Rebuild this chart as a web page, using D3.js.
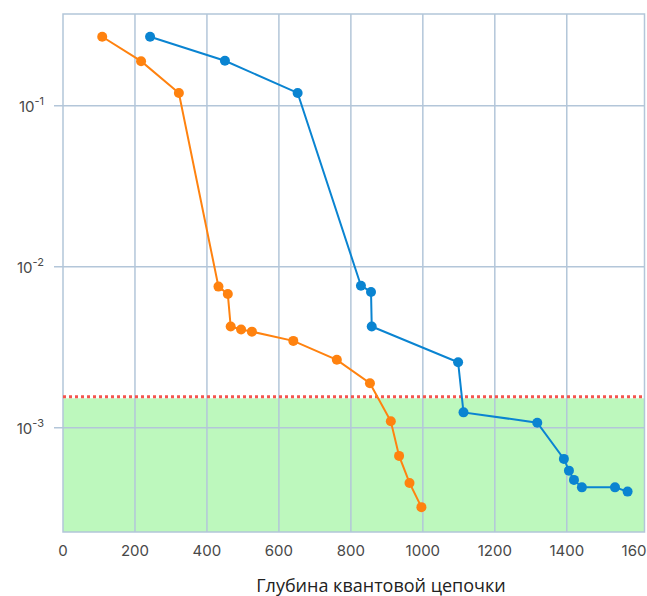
<!DOCTYPE html>
<html lang="ru">
<head>
    <meta charset="UTF-8">
    <title>Глубина квантовой цепочки</title>
    <script src="https://d3js.org/d3.v7.min.js"></script>
    <style>
        body { margin: 0; background: #fff; }
        .tick-label { font-family: Inter, "Open Sans", sans-serif; font-size: 15px; fill: #484848; }
        .axis-title { font-family: "Open Sans", "Noto Sans", sans-serif; font-size: 18px; fill: #222; }
    </style>
</head>
<body>
    <div id="chart"></div>
    <script>
        // data
        const blueDepth = [242, 450, 652, 828, 856, 858, 1098, 1113, 1318, 1392, 1406, 1420, 1442, 1534, 1569];
        const blueError = [0.268, 0.190, 0.120, 7.62e-3, 6.97e-3, 4.25e-3, 2.55e-3, 1.245e-3, 1.074e-3, 6.40e-4, 5.41e-4, 4.74e-4, 4.26e-4, 4.26e-4, 4.01e-4];
        const orangeDepth = [109, 217, 322, 432, 458, 466, 495, 525, 640, 761, 853, 911, 934, 963, 996];
        const orangeError = [0.268, 0.189, 0.120, 7.52e-3, 6.76e-3, 4.25e-3, 4.07e-3, 3.95e-3, 3.46e-3, 2.64e-3, 1.89e-3, 1.096e-3, 6.68e-4, 4.54e-4, 3.21e-4];
        const threshold = 1.555e-3;
        const xTicks = [0, 200, 400, 600, 800, 1000, 1200, 1400, 1600];
        const xGrid = [200, 400, 600, 800, 1000, 1200, 1400];
        const yTicks = [1e-1, 1e-2, 1e-3];
        const yTickExp = ["-1", "-2", "-3"];
        const xTitle = "Глубина квантовой цепочки";

        const W = 647, H = 596;
        const margin = { top: 14, right: 2.5, bottom: 64, left: 63 };
        const width = W - margin.left - margin.right;
        const height = H - margin.top - margin.bottom;
        const gridColor = "#b3c6d9";

        const x = d3.scaleLinear().domain([0, 1616]).range([0, width]);
        const y = d3.scaleLog().domain([2.25e-4, 0.371]).range([height, 0]);

        const svg = d3.select("#chart").append("svg")
            .attr("width", W)
            .attr("height", H)
            .append("g")
            .attr("transform", "translate(" + margin.left + "," + margin.top + ")");

        // green "good" zone under threshold
        svg.append("rect")
            .attr("x", 0)
            .attr("y", y(threshold) + 1.5)
            .attr("width", width)
            .attr("height", height - y(threshold) - 1.5)
            .attr("fill", "#bdf8bd");

        // grid
        svg.selectAll(".vgrid")
            .data(xGrid)
            .enter().append("line")
            .attr("class", "vgrid")
            .attr("x1", d => x(d)).attr("x2", d => x(d))
            .attr("y1", 0).attr("y2", height)
            .attr("stroke", gridColor).attr("stroke-width", 1.5);

        svg.selectAll(".hgrid")
            .data(yTicks)
            .enter().append("line")
            .attr("class", "hgrid")
            .attr("x1", -9).attr("x2", width)
            .attr("y1", d => y(d)).attr("y2", d => y(d))
            .attr("stroke", gridColor).attr("stroke-width", 1.5);

        // frame
        svg.append("rect")
            .attr("width", width).attr("height", height)
            .attr("fill", "none")
            .attr("stroke", gridColor).attr("stroke-width", 1.5);

        // threshold line
        svg.append("line")
            .attr("x1", 0).attr("x2", width)
            .attr("y1", y(threshold)).attr("y2", y(threshold))
            .attr("stroke", "#f5554f")
            .attr("stroke-width", 3)
            .attr("stroke-dasharray", "3,3");

        // x tick labels
        svg.selectAll(".xlab")
            .data(xTicks)
            .enter().append("text")
            .attr("class", "tick-label")
            .attr("x", d => x(d))
            .attr("y", height + 24)
            .attr("text-anchor", "middle")
            .text(d => d);

        // y tick labels with superscripts
        const ylab = svg.selectAll(".ylab")
            .data(yTicks)
            .enter().append("text")
            .attr("class", "tick-label")
            .attr("x", -19)
            .attr("y", d => y(d) + 6)
            .attr("text-anchor", "end");
        ylab.append("tspan").text("10");
        ylab.append("tspan")
            .attr("dy", -7)
            .attr("font-size", 11)
            .text((d, i) => yTickExp[i]);

        // x axis title
        svg.append("text")
            .attr("class", "axis-title")
            .attr("x", 381 - margin.left)
            .attr("y", H - margin.top - 4)
            .attr("text-anchor", "middle")
            .text(xTitle);

        function drawSeries(xs, ys, color) {
            const pts = xs.map((d, i) => [d, ys[i]]);
            svg.append("path")
                .datum(pts)
                .attr("fill", "none")
                .attr("stroke", color)
                .attr("stroke-width", 2)
                .attr("d", d3.line().x(d => x(d[0])).y(d => y(d[1])));
            svg.append("g").selectAll("circle")
                .data(pts)
                .enter().append("circle")
                .attr("cx", d => x(d[0]))
                .attr("cy", d => y(d[1]))
                .attr("r", 5)
                .attr("fill", color);
        }

        drawSeries(orangeDepth, orangeError, "#ff820f");
        drawSeries(blueDepth, blueError, "#0a84d1");
    </script>
</body>
</html>
